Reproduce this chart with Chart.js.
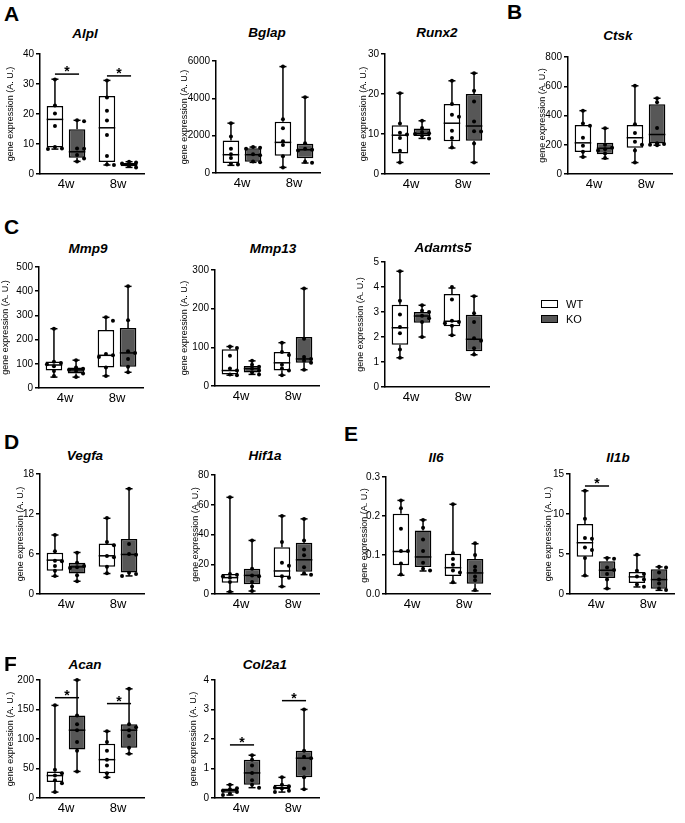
<!DOCTYPE html>
<html><head><meta charset="utf-8">
<script src="https://cdn.jsdelivr.net/npm/chart.js@4"></script>
<style>
html,body{margin:0;padding:0;background:#fff;}
#fig{position:relative;width:685px;height:823px;overflow:hidden;font-family:'Liberation Sans',Arial,sans-serif;color:#000;}
canvas{position:absolute;}
.lt{position:absolute;font-weight:bold;font-size:21px;line-height:1;}
.tt{position:absolute;font-weight:bold;font-style:italic;font-size:13.5px;transform:translate(-50%,-50%);white-space:nowrap;}
.lg{position:absolute;font-size:11px;line-height:1;}
.lgbox{position:absolute;width:15px;height:6px;border:1.5px solid #000;}
</style></head>
<body><div id="fig"></div>
<script>
// ---------- DATA (box stats: [min, q1, median, q3, max]) ----------
const CATEGORIES = ['4w', '8w'];
const SERIES = ['WT', 'KO'];
const Y_TITLE = 'gene expression (A. U.)';

const ALPL_TICKS = [0, 10, 20, 30, 40];
const ALPL_WT = [[8.3, 8.8, 18.2, 22.7, 31.6], [3.0, 4.0, 15.4, 26.0, 31.2]];
const ALPL_KO = [[4.2, 5.4, 7.4, 14.9, 17.9], [2.2, 2.6, 3.1, 3.7, 4.1]];
const ALPL_WT_PTS = [[31.5, 22.8, 20.2, 16.0, 9.0, 8.5, 8.3], [31.2, 25.5, 21.1, 17.8, 13.0, 6.0, 3.2, 3.0]];
const ALPL_KO_PTS = [[17.9, 17.6, 8.5, 8.4, 6.3, 5.2, 4.2], [4.1, 3.8, 3.5, 3.2, 3.0, 2.7, 2.2]];
const ALPL_SIG = [33.3, 32.7];

const BGLAP_TICKS = [0, 2000, 4000, 6000];
const BGLAP_WT = [[410, 535, 980, 1745, 2670], [300, 925, 1640, 2740, 5700]];
const BGLAP_KO = [[570, 605, 980, 1320, 1390], [535, 785, 1245, 1570, 4060]];
const BGLAP_WT_PTS = [[2670, 1950, 1300, 1000, 800, 500, 450], [5700, 2880, 2400, 1700, 1500, 900, 300]];
const BGLAP_KO_PTS = [[1390, 1350, 1300, 1000, 950, 620, 580], [4060, 1600, 1300, 1250, 1200, 600, 550]];
const BGLAP_SIG = [null, null];

const RUNX2_TICKS = [0, 10, 20, 30];
const RUNX2_WT = [[2.9, 5.1, 9.7, 12.2, 20.2], [6.5, 8.2, 12.7, 17.5, 23.3]];
const RUNX2_KO = [[8.9, 9.5, 10.1, 11.4, 13.3], [2.9, 8.3, 12.0, 20.0, 25.2]];
const RUNX2_WT_PTS = [[20.2, 12.6, 10.3, 9.9, 9.0, 5.8, 2.9], [23.3, 17.5, 14.8, 14.3, 10.8, 9.0, 6.6]];
const RUNX2_KO_PTS = [[13.3, 11.5, 10.5, 10.2, 10.0, 9.5, 8.9], [25.2, 20.8, 18.1, 13.1, 10.7, 10.6, 7.6, 2.9]];
const RUNX2_SIG = [null, null];

const CTSK_TICKS = [0, 200, 400, 600, 800];
const CTSK_WT = [[117, 151, 213, 335, 433], [78, 179, 248, 335, 603]];
const CTSK_KO = [[105, 135, 176, 213, 312], [197, 209, 270, 477, 518]];
const CTSK_WT_PTS = [[433, 345, 330, 248, 193, 152, 117], [603, 340, 280, 220, 200, 160, 78]];
const CTSK_KO_PTS = [[312, 200, 180, 170, 160, 140, 110], [518, 490, 315, 210, 205, 200, 197]];
const CTSK_SIG = [null, null];

const MMP9_TICKS = [0, 100, 200, 300, 400, 500];
const MMP9_WT = [[45, 72, 95, 110, 245], [50, 85, 135, 240, 292]];
const MMP9_KO = [[45, 60, 75, 85, 115], [65, 88, 145, 248, 420]];
const MMP9_WT_PTS = [[245, 108, 103, 98, 90, 70, 50], [292, 278, 140, 135, 128, 85, 50]];
const MMP9_KO_PTS = [[115, 85, 80, 75, 70, 60, 45], [420, 280, 152, 145, 120, 88, 65]];
const MMP9_SIG = [null, null];

const MMP13_TICKS = [0, 100, 200, 300];
const MMP13_WT = [[28, 30, 40, 95, 102], [28, 40, 60, 88, 112]];
const MMP13_KO = [[30, 35, 45, 52, 65], [42, 60, 70, 127, 252]];
const MMP13_WT_PTS = [[102, 98, 78, 45, 40, 30, 28], [112, 88, 80, 55, 45, 40, 28]];
const MMP13_KO_PTS = [[65, 55, 50, 45, 40, 35, 30], [252, 122, 75, 70, 65, 60, 42]];
const MMP13_SIG = [null, null];

const ADAMTS5_TICKS = [0, 1, 2, 3, 4, 5];
const ADAMTS5_WT = [[1.17, 1.69, 2.37, 3.29, 4.63], [2.07, 2.43, 2.63, 3.72, 3.96]];
const ADAMTS5_KO = [[2.0, 2.57, 2.84, 3.0, 3.27], [1.29, 1.43, 1.91, 2.89, 3.63]];
const ADAMTS5_WT_PTS = [[4.63, 3.45, 2.9, 2.4, 2.15, 1.5, 1.17], [4.0, 3.5, 2.65, 2.6, 2.55, 2.45, 2.07]];
const ADAMTS5_KO_PTS = [[3.27, 3.05, 3.0, 2.85, 2.75, 2.6, 2.0], [3.63, 2.95, 2.6, 1.95, 1.85, 1.55, 1.3]];
const ADAMTS5_SIG = [null, null];

const VEGFA_TICKS = [0, 6, 12, 18];
const VEGFA_WT = [[2.66, 3.47, 5.08, 6.18, 8.85], [3.07, 4.07, 5.73, 7.59, 11.36]];
const VEGFA_KO = [[1.91, 3.07, 4.07, 4.68, 6.23], [2.71, 3.22, 5.93, 8.25, 15.79]];
const VEGFA_WT_PTS = [[8.85, 6.4, 5.0, 4.9, 4.2, 3.5, 2.7], [11.4, 7.8, 7.3, 5.7, 5.5, 4.1, 3.1]];
const VEGFA_KO_PTS = [[6.2, 4.7, 4.2, 4.0, 3.9, 2.8, 1.9], [15.8, 7.5, 6.0, 5.9, 3.2, 3.0, 2.7]];
const VEGFA_SIG = [null, null];

const HIF1A_TICKS = [0, 20, 40, 60, 80];
const HIF1A_WT = [[1.5, 7.5, 11, 13.5, 65], [5, 11.5, 15.5, 31.5, 52.5]];
const HIF1A_KO = [[2, 6.5, 12.5, 17, 36], [13, 15, 23, 34.5, 50.5]];
const HIF1A_WT_PTS = [[65, 13.5, 13, 12, 11, 8, 1.5], [52.5, 35, 21, 19, 12, 11, 5]];
const HIF1A_KO_PTS = [[36, 17, 12.5, 12, 8, 5, 2], [50.5, 36, 30, 26, 18, 14, 13]];
const HIF1A_SIG = [null, null];

const IL6_TICKS = [0, 0.1, 0.2, 0.3];
const IL6_WT = [[0.048, 0.0735, 0.109, 0.206, 0.24], [0.028, 0.046, 0.0675, 0.103, 0.23]];
const IL6_KO = [[0.059, 0.069, 0.095, 0.163, 0.19], [0.008, 0.026, 0.054, 0.09, 0.129]];
const IL6_WT_PTS = [[0.24, 0.22, 0.167, 0.11, 0.11, 0.078, 0.05], [0.23, 0.105, 0.09, 0.075, 0.06, 0.055, 0.03]];
const IL6_KO_PTS = [[0.19, 0.17, 0.14, 0.11, 0.08, 0.065, 0.06], [0.13, 0.1, 0.07, 0.06, 0.045, 0.035, 0.01]];
const IL6_SIG = [null, null];

const IL1B_TICKS = [0, 5, 10, 15];
const IL1B_WT = [[2.26, 4.65, 6.41, 8.76, 12.9], [0.88, 1.38, 2.14, 2.76, 4.86]];
const IL1B_KO = [[0.67, 2.0, 2.97, 4.1, 4.52], [0.46, 0.67, 1.8, 3.1, 3.39]];
const IL1B_WT_PTS = [[12.9, 9.4, 7.0, 6.9, 5.8, 5.5, 4.5, 2.3], [4.9, 2.9, 2.5, 2.2, 1.8, 1.2, 0.9]];
const IL1B_KO_PTS = [[4.5, 4.4, 3.3, 3.0, 2.5, 1.8, 0.7], [3.4, 3.3, 2.7, 1.8, 1.3, 0.7, 0.5]];
const IL1B_SIG = [13.5, null];

const ACAN_TICKS = [0, 50, 100, 150, 200];
const ACAN_WT = [[10, 27, 38, 45, 157], [35, 42, 65, 92, 113]];
const ACAN_KO = [[45, 82, 115, 140, 200], [75, 85, 115, 125, 185]];
const ACAN_WT_PTS = [[157, 48, 42, 38, 30, 25, 10], [113, 95, 80, 65, 55, 42, 35]];
const ACAN_KO_PTS = [[200, 140, 125, 115, 95, 80, 45], [185, 125, 120, 115, 105, 85, 75]];
const ACAN_SIG = [170, 160];

const COL2A1_TICKS = [0, 1, 2, 3, 4];
const COL2A1_WT = [[0.1, 0.18, 0.25, 0.32, 0.45], [0.2, 0.3, 0.35, 0.45, 0.7]];
const COL2A1_KO = [[0.35, 0.45, 0.85, 1.3, 1.45], [0.3, 0.7, 1.35, 1.6, 3.0]];
const COL2A1_WT_PTS = [[0.45, 0.33, 0.3, 0.25, 0.2, 0.15, 0.1], [0.7, 0.45, 0.4, 0.35, 0.32, 0.25, 0.2]];
const COL2A1_KO_PTS = [[1.45, 1.3, 1.1, 0.85, 0.6, 0.45, 0.35], [3.0, 1.6, 1.4, 1.35, 1.0, 0.7, 0.3]];
const COL2A1_SIG = [1.8, 3.3];

// ---------- LAYOUT ----------
const FONT = "'Liberation Sans', Arial, sans-serif";
const PANELS = [
  {name:'Alpl', ax:40, top:54, bot:174, yw:39, tx:85, ty:33, ticks:ALPL_TICKS, dec:0, wt:ALPL_WT, ko:ALPL_KO, wtp:ALPL_WT_PTS, kop:ALPL_KO_PTS, sig:ALPL_SIG},
  {name:'Bglap', ax:216, top:61, bot:173, yw:41, tx:267, ty:32, ticks:BGLAP_TICKS, dec:0, wt:BGLAP_WT, ko:BGLAP_KO, wtp:BGLAP_WT_PTS, kop:BGLAP_KO_PTS, sig:BGLAP_SIG},
  {name:'Runx2', ax:385, top:54, bot:174, yw:31, tx:437, ty:32, ticks:RUNX2_TICKS, dec:0, wt:RUNX2_WT, ko:RUNX2_KO, wtp:RUNX2_WT_PTS, kop:RUNX2_KO_PTS, sig:RUNX2_SIG},
  {name:'Ctsk', ax:568, top:57, bot:174, yw:35, tx:618, ty:35, ticks:CTSK_TICKS, dec:0, wt:CTSK_WT, ko:CTSK_KO, wtp:CTSK_WT_PTS, kop:CTSK_KO_PTS, sig:CTSK_SIG},
  {name:'Mmp9', ax:39, top:267, bot:388, yw:43, tx:88, ty:248, ticks:MMP9_TICKS, dec:0, wt:MMP9_WT, ko:MMP9_KO, wtp:MMP9_WT_PTS, kop:MMP9_KO_PTS, sig:MMP9_SIG},
  {name:'Mmp13', ax:215, top:270, bot:386, yw:40, tx:273, ty:248, ticks:MMP13_TICKS, dec:0, wt:MMP13_WT, ko:MMP13_KO, wtp:MMP13_WT_PTS, kop:MMP13_KO_PTS, sig:MMP13_SIG},
  {name:'Adamts5', ax:385, top:262, bot:387, yw:34, tx:443, ty:247, ticks:ADAMTS5_TICKS, dec:0, wt:ADAMTS5_WT, ko:ADAMTS5_KO, wtp:ADAMTS5_WT_PTS, kop:ADAMTS5_KO_PTS, sig:ADAMTS5_SIG},
  {name:'Vegfa', ax:40, top:474, bot:594, yw:29, tx:85, ty:455, ticks:VEGFA_TICKS, dec:0, wt:VEGFA_WT, ko:VEGFA_KO, wtp:VEGFA_WT_PTS, kop:VEGFA_KO_PTS, sig:VEGFA_SIG},
  {name:'Hif1a', ax:215, top:475, bot:594, yw:29, tx:265, ty:455, ticks:HIF1A_TICKS, dec:0, wt:HIF1A_WT, ko:HIF1A_KO, wtp:HIF1A_WT_PTS, kop:HIF1A_KO_PTS, sig:HIF1A_SIG},
  {name:'Il6', ax:386, top:477, bot:594, yw:31, tx:436, ty:457, ticks:IL6_TICKS, dec:1, wt:IL6_WT, ko:IL6_KO, wtp:IL6_WT_PTS, kop:IL6_KO_PTS, sig:IL6_SIG},
  {name:'Il1b', ax:570, top:474, bot:594, yw:31, tx:618, ty:457, ticks:IL1B_TICKS, dec:0, wt:IL1B_WT, ko:IL1B_KO, wtp:IL1B_WT_PTS, kop:IL1B_KO_PTS, sig:IL1B_SIG},
  {name:'Acan', ax:40, top:680, bot:798, yw:39, tx:85, ty:664, ticks:ACAN_TICKS, dec:0, wt:ACAN_WT, ko:ACAN_KO, wtp:ACAN_WT_PTS, kop:ACAN_KO_PTS, sig:ACAN_SIG},
  {name:'Col2a1', ax:215, top:680, bot:798, yw:31, tx:265, ty:664, ticks:COL2A1_TICKS, dec:0, wt:COL2A1_WT, ko:COL2A1_KO, wtp:COL2A1_WT_PTS, kop:COL2A1_KO_PTS, sig:COL2A1_SIG}
];
const LETTERS = [['A',4,3],['B',507,1],['C',4,216],['D',4,431],['E',344,423],['F',4,653]];

// ---------- PLUGIN: whiskers, medians, points, significance ----------
const boxExtras = {
  id: 'boxExtras',
  afterDatasetsDraw(chart) {
    const o = chart.options.plugins.boxExtras;
    const ctx = chart.ctx, ys = chart.scales.y;
    const py = v => ys.getPixelForValue(v);
    const seg = (x1, y1, x2, y2) => { ctx.beginPath(); ctx.moveTo(x1, y1); ctx.lineTo(x2, y2); ctx.stroke(); };
    ctx.save();
    ctx.strokeStyle = '#000'; ctx.lineWidth = 1.5; ctx.lineCap = 'butt';
    [0, 1].forEach(di => {
      const meta = chart.getDatasetMeta(di);
      meta.data.forEach((bar, i) => {
        const s = o.stats[di][i];
        const cx = bar.x, hw = bar.width / 2;
        seg(cx, py(s[4]), cx, py(s[3]));
        seg(cx, py(s[1]), cx, py(s[0]));
        seg(cx - 3.5, py(s[4]), cx + 3.5, py(s[4]));
        seg(cx - 3.5, py(s[0]), cx + 3.5, py(s[0]));
        seg(cx - hw, py(s[2]), cx + hw, py(s[2]));
        const placed = [];
        const vals = o.points[di][i].slice().sort((a, b) => b - a);
        ctx.fillStyle = '#000';
        vals.forEach(v => {
          const y = py(v);
          const cands = [0, 3.5, -3.5, 7, -7];
          let dx = 0;
          for (const c of cands) {
            if (!placed.some(p => Math.abs(p[1] - y) < 3.6 && Math.abs(p[0] - c) < 3.6)) { dx = c; break; }
          }
          placed.push([dx, y]);
          ctx.beginPath(); ctx.arc(cx + dx, y, 2, 0, Math.PI * 2); ctx.fill();
        });
      });
    });
    o.sig.forEach((v, i) => {
      if (v === null) return;
      const a = chart.getDatasetMeta(0).data[i], b = chart.getDatasetMeta(1).data[i];
      const y = py(v);
      seg(a.x, y, b.x + 2, y);
      ctx.fillStyle = '#000';
      ctx.font = 'bold 14px ' + FONT;
      ctx.textAlign = 'center'; ctx.textBaseline = 'alphabetic';
      ctx.fillText('*', (a.x + b.x + 2) / 2, y + 2);
    });
    ctx.restore();
  }
};

// ---------- BUILD ----------
const fig = document.getElementById('fig');
const PLOT_W = 104, PAD_T = 8, PAD_R = 6, XH = 20;

PANELS.forEach(p => {
  const cv = document.createElement('canvas');
  const left = p.ax - p.yw, topY = p.top - PAD_T;
  const w = p.yw + PLOT_W + PAD_R, h = (p.bot - topY) + XH;
  cv.width = w; cv.height = h;
  cv.style.left = left + 'px'; cv.style.top = topY + 'px';
  cv.style.width = w + 'px'; cv.style.height = h + 'px';
  fig.appendChild(cv);

  const t = document.createElement('div');
  t.className = 'tt'; t.textContent = p.name;
  t.style.left = p.tx + 'px'; t.style.top = p.ty + 'px';
  fig.appendChild(t);

  new Chart(cv, {
    type: 'bar',
    data: {
      labels: CATEGORIES,
      datasets: [
        {label: SERIES[0], data: p.wt.map(s => [s[1], s[3]]), backgroundColor: '#ffffff', borderColor: '#000', borderWidth: 1.5, borderSkipped: false},
        {label: SERIES[1], data: p.ko.map(s => [s[1], s[3]]), backgroundColor: '#575757', borderColor: '#000', borderWidth: 1.5, borderSkipped: false}
      ]
    },
    options: {
      responsive: false, animation: false, devicePixelRatio: 1,
      layout: {padding: {top: PAD_T, right: PAD_R, left: 0, bottom: 0}},
      datasets: {bar: {categoryPercentage: 0.85, barPercentage: 0.75}},
      plugins: {
        legend: {display: false}, tooltip: {enabled: false},
        boxExtras: {stats: [p.wt, p.ko], points: [p.wtp, p.kop], sig: p.sig}
      },
      scales: {
        x: {
          grid: {display: false, drawTicks: false},
          border: {display: true, color: '#000', width: 1.5},
          ticks: {color: '#000', font: {size: 13, family: FONT}, padding: 3},
          afterFit(s) { s.height = XH; }
        },
        y: {
          min: 0, max: p.ticks[p.ticks.length - 1],
          border: {display: true, color: '#000', width: 1.5},
          grid: {drawOnChartArea: false, drawTicks: true, tickLength: 4, color: '#000', lineWidth: 1.5},
          ticks: {color: '#000', font: {size: 10, family: FONT}, padding: 2, callback: v => Number(v).toFixed(p.dec)},
          afterBuildTicks(s) { s.ticks = p.ticks.map(v => ({value: v})); },
          afterFit(s) { s.width = p.yw; },
          title: {display: true, text: Y_TITLE, color: '#000', font: {size: 9, family: FONT}}
        }
      }
    },
    plugins: [boxExtras]
  });
});

LETTERS.forEach(([t, x, y]) => {
  const d = document.createElement('div');
  d.className = 'lt'; d.textContent = t;
  d.style.left = x + 'px'; d.style.top = y + 'px';
  fig.appendChild(d);
});

[['WT', '#ffffff', 300], ['KO', '#575757', 315]].forEach(([txt, col, y]) => {
  const b = document.createElement('div');
  b.className = 'lgbox'; b.style.left = '541px'; b.style.top = y + 'px'; b.style.background = col;
  fig.appendChild(b);
  const l = document.createElement('div');
  l.className = 'lg'; l.textContent = txt; l.style.left = '566px'; l.style.top = (y - 1) + 'px';
  fig.appendChild(l);
});
</script>
</body></html>
